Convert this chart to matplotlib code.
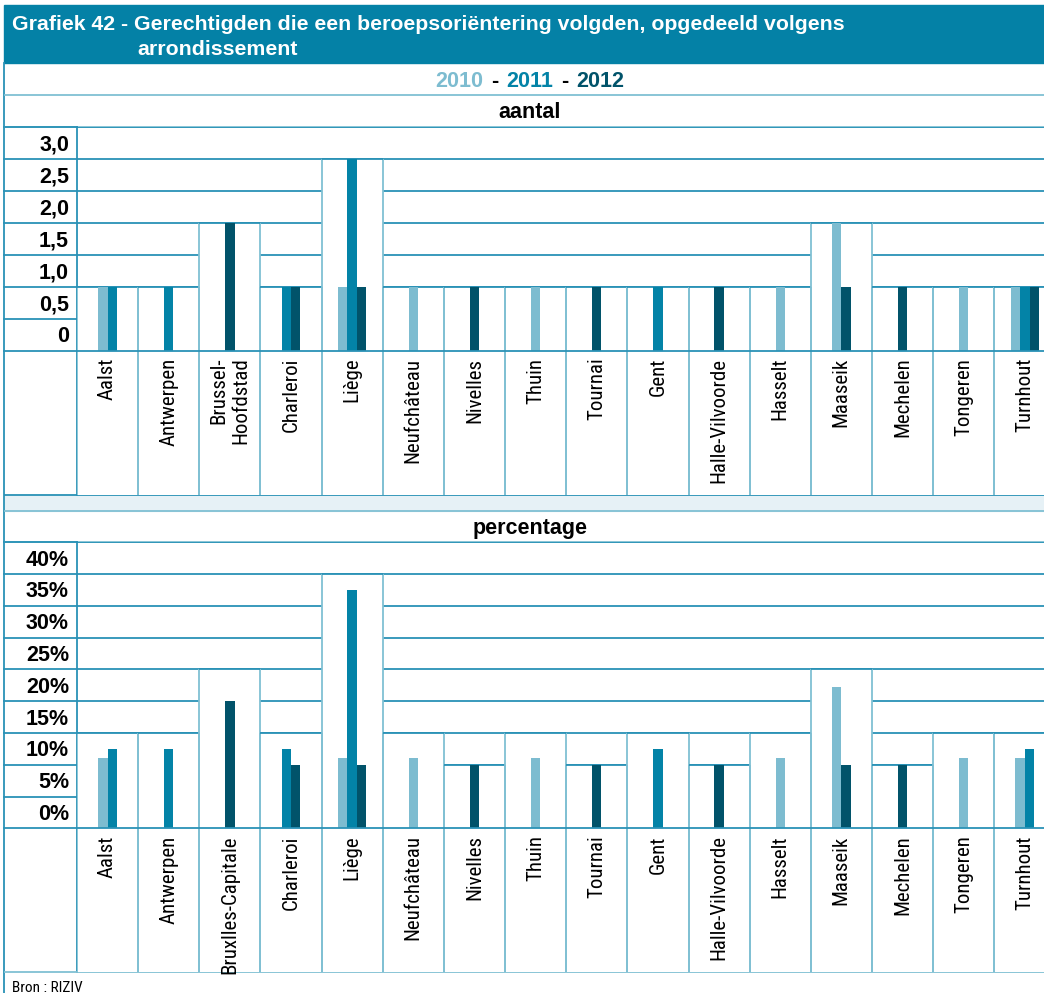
import numpy as np
import matplotlib
matplotlib.use("Agg")
import matplotlib.pyplot as plt
from matplotlib.patches import Rectangle
from matplotlib.transforms import blended_transform_factory, ScaledTranslation
from matplotlib import font_manager

# ---------------------------------------------------------------- data
districts_count = ["Aalst", "Antwerpen", "Brussel-\nHoofdstad", "Charleroi", "Liège",
                   "Neufchâteau", "Nivelles", "Thuin", "Tournai", "Gent",
                   "Halle-Vilvoorde", "Hasselt", "Maaseik", "Mechelen", "Tongeren", "Turnhout"]
districts_pct = ["Aalst", "Antwerpen", "Bruxlles-Capitale", "Charleroi", "Liège",
                 "Neufchâteau", "Nivelles", "Thuin", "Tournai", "Gent",
                 "Halle-Vilvoorde", "Hasselt", "Maaseik", "Mechelen", "Tongeren", "Turnhout"]
years = ["2010", "2011", "2012"]

count_2010 = [1, 0, 0, 0, 1, 1, 0, 1, 0, 0, 0, 1, 2, 0, 1, 1]
count_2011 = [1, 1, 0, 1, 3, 0, 0, 0, 0, 1, 0, 0, 0, 0, 0, 1]
count_2012 = [0, 0, 2, 1, 1, 0, 1, 0, 1, 0, 1, 0, 1, 1, 0, 1]

pct_2010 = [11.1, 0, 0, 0, 11.1, 11.1, 0, 11.1, 0, 0, 0, 11.1, 22.2, 0, 11.1, 11.1]
pct_2011 = [12.5, 12.5, 0, 12.5, 37.5, 0, 0, 0, 0, 12.5, 0, 0, 0, 0, 0, 12.5]
pct_2012 = [0, 0, 20, 10, 10, 0, 10, 0, 10, 0, 10, 0, 10, 10, 0, 0]

count_ticks = ["0", "0,5", "1,0", "1,5", "2,0", "2,5", "3,0"]
pct_ticks = ["0%", "5%", "10%", "15%", "20%", "25%", "30%", "35%", "40%"]

# height of the white cell behind each district
count_cell_top = [1, 1, 2, 1, 3, 1, 1, 1, 1, 1, 1, 1, 2, 1, 1, 1]
pct_cell_top = [15, 15, 25, 15, 40, 15, 10, 15, 10, 15, 10, 15, 25, 10, 15, 15]

title_lines = ["Grafiek 42 - Gerechtigden die een beroepsoriëntering volgden, opgedeeld volgens",
               "arrondissement"]
panel_titles = ["aantal", "percentage"]
source_note = "Bron : RIZIV"

# ---------------------------------------------------------------- style
C_HEAD = "#0481a6"
C_YEAR = ["#7dbcd0", "#0383a7", "#01536a"]
C_DARK = "#2a92b6"
C_LIGHT = "#80c0d3"
C_BAND = "#e6f1f6"
LW = 1.3

fonts = font_manager.fontManager.ttflist
names = {f.name for f in fonts}
BOLD_FONT = "Liberation Sans" if "Liberation Sans" in names else "DejaVu Sans"

# narrow face for the district names
NARROW = None
for cand in ["Liberation Sans Narrow", "Roboto Condensed", "Open Sans Condensed",
             "Arial Narrow", "Noto Sans Condensed"]:
    if cand in names:
        NARROW = dict(family=cand, fontstretch="normal")
        break
if NARROW is None:
    for f in fonts:
        if f.stretch in ("condensed", "semi-condensed", "extra-condensed") or \
                "Condensed" in f.name or "Narrow" in f.name:
            NARROW = dict(family=f.name, fontstretch=f.stretch)
            break
if NARROW is None:
    NARROW = dict(family=BOLD_FONT, fontstretch="normal")
    CAT_SIZE, NOTE_SIZE = 12.2, 9.5
else:
    CAT_SIZE, NOTE_SIZE = 15, 11

W, H = 1044, 993
fig = plt.figure(figsize=(W / 100, H / 100), dpi=100)
frame = fig.add_axes([0, 0, 1, 1])
frame.set_xlim(0, W)
frame.set_ylim(H, 0)
frame.axis("off")

X_LEFT = 4
X_YCOL = 77
COL_W = 61.15


def px_axes(x0, y0, x1, y1):
    return fig.add_axes([x0 / W, 1 - y1 / H, (x1 - x0) / W, (y1 - y0) / H])


def hline(y, x0=X_LEFT, x1=W, color=C_LIGHT):
    frame.plot([x0, x1], [y, y], color=color, lw=LW, solid_capstyle="butt")


def draw_panel(y_top, y_base, y_bottom, step, ticks, cats, series, cell_top):
    nbands = len(ticks)
    ax = px_axes(X_YCOL, y_top, W, y_bottom)
    ax.patch.set_alpha(0)
    ax.axis("off")
    vmax = step * nbands
    unit = (y_base - y_top) / vmax
    vmin = -(y_bottom - y_base) / unit
    ax.set_xlim(0, (W - X_YCOL) / COL_W)
    ax.set_ylim(vmin, vmax)
    ncat = len(cats)
    levels = [step * k for k in range(nbands + 1)]

    # gridlines, then a white cell for every district
    ax.hlines(levels, 0, ncat, color=C_DARK, lw=LW, zorder=1)
    for i, top in enumerate(cell_top):
        ax.add_patch(Rectangle((i, vmin), 1, top - vmin, facecolor="white",
                               edgecolor="none", zorder=2))
        ax.vlines([i, i + 1], vmin, top, color=C_LIGHT, lw=LW, zorder=3)
        ax.hlines(top, i, i + 1, color=C_DARK, lw=LW, zorder=3)

    # bars: only non-zero years, packed around the cell centre
    bw = 0.153
    xs = [[] for _ in series]
    hs = [[] for _ in series]
    for i in range(ncat):
        present = [k for k, s in enumerate(series) if s[i] > 0]
        n = len(present)
        for j, k in enumerate(present):
            xs[k].append(i + 0.5 + (j - (n - 1) / 2) * bw)
            hs[k].append(series[k][i])
    for k in range(len(series)):
        ax.bar(xs[k], hs[k], width=bw, color=C_YEAR[k], linewidth=0, zorder=4,
               label=years[k])
    ax.hlines(0, 0, ncat, color=C_DARK, lw=LW, zorder=5)

    for i, name in enumerate(cats):
        ax.text(i + 0.5, -7 / unit, name, rotation=90, ha="center", va="top",
                multialignment="right", fontsize=CAT_SIZE, zorder=6, **NARROW)

    # value column on the left
    tr = blended_transform_factory(frame.transData, ax.transData)
    for v in levels:
        frame.plot([X_LEFT, X_YCOL], [v, v], color=C_DARK, lw=LW, transform=tr)
    frame.plot([X_YCOL, X_YCOL], [y_top, y_bottom], color=C_DARK, lw=LW)
    shift = ScaledTranslation(0, -7.5 / 100, fig.dpi_scale_trans)
    for k, lab in enumerate(ticks):
        frame.text(X_YCOL - 8, k * step + step / 2, lab, transform=tr + shift,
                   ha="right", va="baseline", fontsize=15.5, weight="bold",
                   family=BOLD_FONT)
    return ax


# ---------------------------------------------------------------- header
frame.add_patch(Rectangle((X_LEFT, 5), W - X_LEFT, 58, color=C_HEAD, zorder=0))
frame.text(12, 30, title_lines[0], color="white", fontsize=15.3, weight="bold",
           family=BOLD_FONT, va="baseline")
frame.text(137, 55, title_lines[1], color="white", fontsize=15.3, weight="bold",
           family=BOLD_FONT, va="baseline")
frame.plot([X_LEFT, X_LEFT], [63, H], color=C_DARK, lw=LW)

# year key row
renderer = fig.canvas.get_renderer()
pieces = [(years[0], C_YEAR[0]), ("-", "black"), (years[1], C_YEAR[1]),
          ("-", "black"), (years[2], C_YEAR[2])]
key_texts = [frame.text(0, 87.3, s, color=c, fontsize=15.5, weight="bold",
                        family=BOLD_FONT, va="baseline") for s, c in pieces]
widths = [t.get_window_extent(renderer).width for t in key_texts]
gap = 8
x = 530 - (sum(widths) + gap * (len(widths) - 1)) / 2
for t, w in zip(key_texts, widths):
    t.set_x(x)
    x += w + gap
hline(95)

# ---------------------------------------------------------------- counts
frame.text(530, 118.3, panel_titles[0], ha="center", va="baseline", fontsize=15.5,
           weight="bold", family=BOLD_FONT)
hline(127)
draw_panel(127, 350.7, 495, 0.5, count_ticks, districts_count,
           [count_2010, count_2011, count_2012], count_cell_top)

# band between the two panels
frame.add_patch(Rectangle((X_LEFT, 495), W - X_LEFT, 15.7, color=C_BAND, zorder=0))
hline(495, color=C_DARK)
hline(510.7)

# ---------------------------------------------------------------- percentages
frame.text(530, 534, panel_titles[1], ha="center", va="baseline", fontsize=15.5,
           weight="bold", family=BOLD_FONT)
hline(542.3)
draw_panel(542.3, 828.3, 971.7, 5, pct_ticks, districts_pct,
           [pct_2010, pct_2011, pct_2012], pct_cell_top)
hline(971.7)

frame.text(12, 992, source_note, fontsize=NOTE_SIZE, va="baseline", **NARROW)

fig.savefig("out.png", dpi=100)
